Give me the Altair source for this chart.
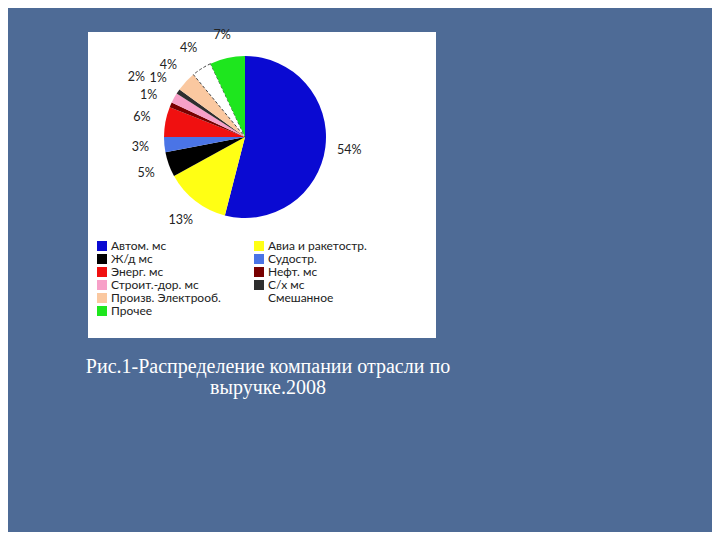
import altair as alt
import pandas as pd

CATEGORIES = ["Автом. мс", "Авиа и ракетостр.", "Ж/д мс", "Судостр.", "Энерг. мс",
              "Нефт. мс", "Строит.-дор. мс", "С/х мс", "Произв. Электрооб.",
              "Смешанное", "Прочее"]
SHARES = [54, 13, 5, 3, 6, 1, 2, 1, 4, 4, 7]
COLORS = ["#0a0ad2", "#ffff14", "#000000", "#4a74e6", "#f01010", "#780000",
          "#f7a0c8", "#2e2e2e", "#fac8a0", "#ffffff", "#1ee61e"]
CAPTION = ["Рис.1-Распределение компании отрасли по", "выручке.2008"]

df = pd.DataFrame({"cat": CATEGORIES, "value": SHARES, "order": list(range(len(SHARES)))})
df["label"] = df["value"].astype(str) + "%"
one = pd.DataFrame({"k": [0]})

CX, CY = 237, 129
TWO_PI = 6.283185307179586

box = alt.Chart(one).mark_rect(color="white").encode(
    x=alt.value(80), x2=alt.value(428), y=alt.value(24), y2=alt.value(330)
)

pie = alt.Chart(df).mark_arc(outerRadius=81, strokeDash=[3, 2]).encode(
    theta=alt.Theta("value:Q", stack=True, scale=alt.Scale(domain=[0, 100], range=[0, TWO_PI])),
    order=alt.Order("order:Q"),
    color=alt.Color("cat:N", sort=CATEGORIES,
                    scale=alt.Scale(domain=CATEGORIES, range=COLORS),
                    legend=alt.Legend(title=None, orient="none", legendX=88, legendY=232,
                                      columns=2, direction="horizontal",
                                      symbolType="square", symbolSize=100,
                                      symbolStrokeWidth=0, labelFont="Lato", labelFontSize=12,
                                      labelColor="#222222", rowPadding=1, columnPadding=32,
                                      symbolOffset=0, labelOffset=3, labelLimit=200)),
    stroke=alt.condition("datum.cat == 'Смешанное'", alt.value("#444444"), alt.value("transparent")),
    strokeWidth=alt.condition("datum.cat == 'Смешанное'", alt.value(1), alt.value(0)),
    x=alt.value(CX), y=alt.value(CY),
)

labels = alt.Chart(df).transform_stack(
    stack="value", groupby=[], as_=["v0", "v1"], sort=[alt.SortField("order")]
).transform_calculate(
    mid="(datum.v0 + datum.v1) / 2",
    ring="datum.cat == 'Строит.-дор. мс' ? 1 : 0",
).mark_text(font="Lato", fontSize=12.5, color="#222222").encode(
    theta=alt.Theta("mid:Q", scale=alt.Scale(domain=[0, 100], range=[0, TWO_PI])),
    radius=alt.Radius("ring:Q", scale=alt.Scale(domain=[0, 1], range=[105, 124], zero=False)),
    text="label:N",
    x=alt.value(CX), y=alt.value(CY),
)

caption = alt.Chart(one).mark_text(font="Liberation Serif", fontSize=20, color="white",
                                   lineHeight=21, align="center", baseline="middle").encode(
    x=alt.value(260), y=alt.value(359), text=alt.value(CAPTION)
)

chart = alt.layer(box, pie, labels, caption).properties(
    width=704, height=524, padding=0, background="#4e6b96",
    autosize=alt.AutoSizeParams(type="fit", contains="padding"),
).configure_view(stroke=None)

chart.save("out.html", embed_options={"renderer": "svg", "actions": False})
